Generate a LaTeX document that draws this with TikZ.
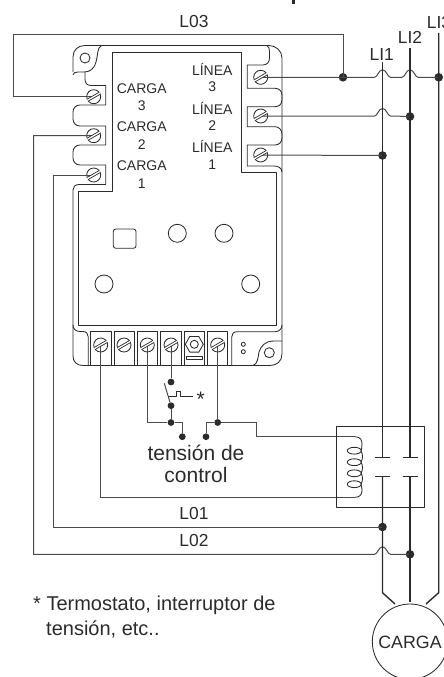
\documentclass[tikz,border=0pt]{standalone}
\usepackage{fontspec}
\setmainfont{Liberation Sans}
\usetikzlibrary{shapes.geometric}
\definecolor{ink}{gray}{0.17}
\newcommand\hop[1]{-- ([xshift=-8pt]#1) .. controls +(3,0) and +(-4,0) .. ([yshift=7.5pt]#1) .. controls +(4,0) and +(-3,0) .. ([xshift=8pt]#1)}
\tikzset{
  base/.style={draw=ink,line width=0.85pt,line join=round},
  wire/.style={draw=ink!85,line width=1pt,line join=miter},
  heavy/.style={draw=ink,line width=1.4pt},
  screwhead/.style={circle,draw=ink,line width=0.85pt,inner sep=0pt,minimum size=14pt},
  hole/.style={circle,draw=ink,line width=0.85pt,inner sep=0pt,minimum size=#1},
  bigdot/.style={circle,fill=ink,inner sep=0pt,minimum size=8.6pt},
  smalldot/.style={circle,fill=ink,inner sep=0pt,minimum size=6.8pt},
  lab/.style={text=ink,inner sep=0pt,align=center,font=\fontsize{14}{14}\selectfont},
  mid/.style={text=ink,inner sep=0pt,font=\fontsize{17.4}{17.4}\selectfont},
  big/.style={text=ink,inner sep=0pt,font=\fontsize{21}{21}\selectfont},
  note/.style={text=ink,inner sep=0pt,anchor=west,font=\fontsize{20}{20}\selectfont},
}
\begin{document}
\begin{tikzpicture}[x=1pt,y=-1pt]
\useasboundingbox (0,0) rectangle (444,677);
\fill[ink] (291.5,0) rectangle (295,4);
% housing outline
\draw[base] (73,190) -- (73,356) .. controls (73,362) and (77,365.5) .. (83,365.5) -- (270,365.5) .. controls (277,365.5) and (282,361) .. (282,354) -- (282,58) .. controls (282,51) and (276,45.5) .. (269,45.5) -- (85,45.5) .. controls (78,45.5) and (73,50) .. (73,57) -- (73,72);
\draw[base] (101.5,45.5) .. controls (97,47) and (98,56) .. (96,62) .. controls (94,69) and (90,72) .. (84,72) -- (78,72) .. controls (75,72) and (73,73) .. (73,75);
\draw[base] (85,72) -- (85,79) .. controls (85,83) and (87,85.5) .. (91,85.5) -- (105.7,85.5) -- (105.7,105) -- (80,105) .. controls (76,105) and (73,108) .. (73,112) -- (73,119) .. controls (73,123) and (76,126) .. (80,126) -- (105.7,126) -- (105.7,145) -- (80,145) .. controls (76,145) and (73,148) .. (73,152) -- (73,158) .. controls (73,162) and (76,165) .. (80,165) -- (105.7,165) -- (105.7,184.5) -- (79,184.5) .. controls (75,184.5) and (73,187) .. (73,190);
\draw[base] (267,45.5) .. controls (269,47) and (269.5,49) .. (269.5,52) -- (269.5,58) .. controls (269.5,62) and (267,65) .. (263,65) -- (247.3,65) -- (247.3,88.3) -- (275,88.3) .. controls (279,88.3) and (282,91) .. (282,95) -- (282,100) .. controls (282,104) and (279,106.7) .. (275,106.7) -- (247.3,106.7) -- (247.3,126.7) -- (275,126.7) .. controls (279,126.7) and (282,130) .. (282,134) -- (282,138) .. controls (282,142) and (279,145) .. (275,145) -- (247.3,145) -- (247.3,166) -- (274,166) .. controls (278,166) and (282,168) .. (282,172);
% inner panel
\draw[base] (112.7,52.3) -- (241.3,52.3) -- (241.3,172) -- (276.5,172) -- (276.5,325.7) -- (78.3,325.7) -- (78.3,191) -- (112.7,191) -- cycle;
% lower strip
\draw[base] (73,325) .. controls (73,329) and (76,331.5) .. (80,331.5) -- (83,331.5) .. controls (86.5,331.5) and (88.3,334) .. (88.3,337) -- (88.3,365.5);
\draw[base] (282,325) .. controls (282,329) and (279,331.7) .. (275,331.7) -- (237,331.7) .. controls (233.5,331.7) and (231.7,334) .. (231.7,337) -- (231.7,365.5);
\draw[base] (282,341) -- (274,341) .. controls (265,341) and (261,346) .. (259,352) .. controls (258,357) and (258,364) .. (253,365.5);
\foreach \l/\r in {90.7/111,114/134.3,137.3/157.7,160.7/181,184.3/204.3,207.7/227.7}
  \draw[base] (\l,365.5) -- (\l,331.5) -- (\r,331.5) -- (\r,365.5);
% holes and panel details
\node[hole=10pt] (h0) at (85,58) {};
\node[hole=18pt] (h1) at (177.3,233.3) {};
\node[hole=18pt] (h2) at (224,233.3) {};
\node[hole=18pt] (h3) at (104,284) {};
\node[hole=18pt] (h4) at (250.7,284) {};
\node[hole=10pt] (h5) at (269.3,352.7) {};
\node[hole=4pt] (h6) at (243.3,344.3) {};
\node[hole=4pt] (h7) at (243.3,351.7) {};
\draw[base,rounded corners=2.5pt] (113.3,229) rectangle (136,248.3);
\node[regular polygon,regular polygon sides=6,draw=ink,line width=0.85pt,inner sep=0pt,minimum size=18pt] (hexnut) at (194.3,344.3) {};
\node[hole=8pt] (hexhole) at (194.3,344.3) {};
\draw[base] (186.7,356) rectangle (202.7,359.3);
% screws
\foreach \n/\x/\y in {cl3/93.7/96.7,cl2/93.7/135.7,cl1/93.7/175,ln3/260.7/77.3,ln2/260.7/116,ln1/260.7/155,t1/100.7/345,t2/124/345,t3/147.3/345,t4/171/345,t6/217.7/345}
  \node[screwhead] (\n) at (\x,\y) {};
% named points
\coordinate (a1) at (13,96.7);
\coordinate (a2) at (13,35);
\coordinate (a3) at (343,35);
\coordinate (top1) at (382.5,62);
\coordinate (top2) at (410,48);
\coordinate (top3) at (438.7,33);
\coordinate (j11) at (382.5,77.3);
\coordinate (j12) at (410,77.3);
\coordinate (j21) at (382.5,116);
\coordinate (j31) at (382.5,554.3);
\coordinate (c1a) at (382.5,457.5);
\coordinate (c2a) at (410,457.5);
\coordinate (c1b) at (382.5,476.7);
\coordinate (c2b) at (410,476.7);
\coordinate (b1) at (382.5,592.7);
\coordinate (b3) at (438.7,592.7);
\node[bigdot] (dA) at (343,77.3) {};
\node[bigdot] (dL3) at (438.7,77.3) {};
\node[bigdot] (dL2) at (410,116.5) {};
\node[bigdot] (dL1) at (382.5,155.5) {};
\node[bigdot] (dO1) at (382.5,527) {};
\node[bigdot] (dO2) at (410,554.3) {};
\node[smalldot] (s1) at (171,382) {};
\node[smalldot] (s2) at (171,405.7) {};
\node[smalldot] (s3) at (171,422.5) {};
\node[smalldot] (s4) at (182.3,436.7) {};
\node[smalldot] (s5) at (206,436.7) {};
\node[smalldot] (s6) at (217.7,422.5) {};
\coordinate (k1) at (256.7,422.5);
\coordinate (k2) at (256.7,436.7);
\coordinate (coilT) at (355,436.7);
\coordinate (coilB) at (355,497.3);
\coordinate (l1) at (33.5,135.7);
\coordinate (l2) at (33.5,554.3);
\coordinate (m1) at (53.5,175);
\coordinate (m2) at (53.5,527);
\coordinate (n1) at (101,497.3);
% wires
\draw[wire] (cl3.center) -- (a1) -- (a2) -- (a3) -- (dA.center);
\draw[wire] (ln3.center) -- (dA.center) \hop{j11} \hop{j12} -- (dL3.center);
\draw[wire] (ln2.center) \hop{j21} -- (dL2.center);
\draw[wire] (ln1.center) -- (dL1.center);
\draw[wire] (cl2.center) -- (l1) -- (l2) \hop{j31} -- (dO2.center);
\draw[wire] (cl1.center) -- (m1) -- (m2) -- (dO1.center);
\draw[wire] (t1.center) -- (t1.center |- n1) -- (coilB);
% main lines
\draw[heavy] (top1) -- (c1a);
\draw[heavy] (top2) -- (c2a);
\draw[heavy] (top3) -- (b3) -- (426,604);
\draw[heavy] (c1b) -- (b1) -- (395,604);
\draw[heavy] (c2b) -- (410,602);
\draw[heavy] (375,457.5) -- (390,457.5);
\draw[heavy] (402.7,457.5) -- (418.3,457.5);
\draw[heavy] (375,476.7) -- (390,476.7);
\draw[heavy] (402.7,476.7) -- (418.3,476.7);
% control wiring
\draw[wire] (t4.center) -- (s1);
\draw[wire] (164.3,383.3) -- (s2);
\draw[wire] (s2) -- (s3);
\draw[wire] (t3.center) -- (t3.center |- s3) -- (s3) -| (s4);
\draw[wire] (t6.center) -- (s6);
\draw[wire] (s5) |- (s6) -- (k1) -- (k2) -- (coilT);
\draw[base] (168.3,396.7) -- (176,396.7) -- (176,391.7) -- (180.7,391.7) -- (180.7,396.7) -- (192.7,396.7);
% contactor box
\draw[base] (336,426.7) rectangle (424.3,507.3);
% coil
\foreach \y in {450.7,462.2,473.3,484.2}
  \draw[base] (354.3,\y) ellipse (7 and 3.4);
\draw[base] (coilT) .. controls (361,436.7) and (362,441) .. (362,444) .. controls (362,447) and (361.5,449) .. (361,450.7);
\draw[base] (361,450.7) .. controls (363,454) and (363,459) .. (361,462.2);
\draw[base] (361,462.2) .. controls (363,465) and (363,470) .. (361,473.3);
\draw[base] (361,473.3) .. controls (363,476) and (363,481) .. (361,484.2);
\draw[base] (361,484.2) .. controls (362,487) and (362,490) .. (362,491) .. controls (362,495) and (359,497.3) .. (coilB);
% screw slots
\foreach \s in {cl3,cl2,cl1,ln3,ln2,ln1,t1,t2,t3,t4,t6}{
  \begin{scope}[shift={(\s)}]
    \draw[ink,line width=3pt] (-5.9,3.4) -- (5.9,-3.4);
    \draw[white,line width=1.3pt] (-6.4,3.7) -- (6.4,-3.7);
  \end{scope}}
% load
\node[circle,draw=ink,line width=0.85pt,minimum size=75.4pt,inner sep=0pt] (load) at (410,641.7) {};
\node[text=ink,inner sep=0pt,font=\fontsize{17.8}{17.8}\selectfont] (loadt) at (410,642.5) {CARGA};
% labels
\node[lab] (t01) at (141.7,88.7) {CARGA};
\node[lab] (t02) at (141.7,106) {3};
\node[lab] (t03) at (141.7,126.7) {CARGA};
\node[lab] (t04) at (141.7,144.3) {2};
\node[lab] (t05) at (141.7,165.7) {CARGA};
\node[lab] (t06) at (141.7,183.3) {1};
\node[lab] (t07) at (212.3,69.7) {LÍNEA};
\node[lab] (t08) at (212.3,87) {3};
\node[lab] (t09) at (212.3,108) {LÍNEA};
\node[lab] (t10) at (212.3,126) {2};
\node[lab] (t11) at (212.3,146.7) {LÍNEA};
\node[lab] (t12) at (212.3,165) {1};
\node[mid] (t13) at (194,22) {L03};
\node[mid] (t14) at (194,513.3) {L01};
\node[mid] (t15) at (194,541) {L02};
\node[mid] (t16) at (381.7,54.7) {LI1};
\node[mid] (t17) at (410,37.7) {LI2};
\node[mid,anchor=west] (t18) at (426.7,22.3) {LI3};
\node[big] (t19) at (196,453) {tensión de};
\node[big] (t20) at (196,474.5) {control};
\node[big] (t21) at (200.7,399.5) {*};
\node[note] (t22) at (33,605) {* Termostato, interruptor de};
\node[note] (t23) at (46,629) {tensión, etc..};
\end{tikzpicture}
\end{document}
